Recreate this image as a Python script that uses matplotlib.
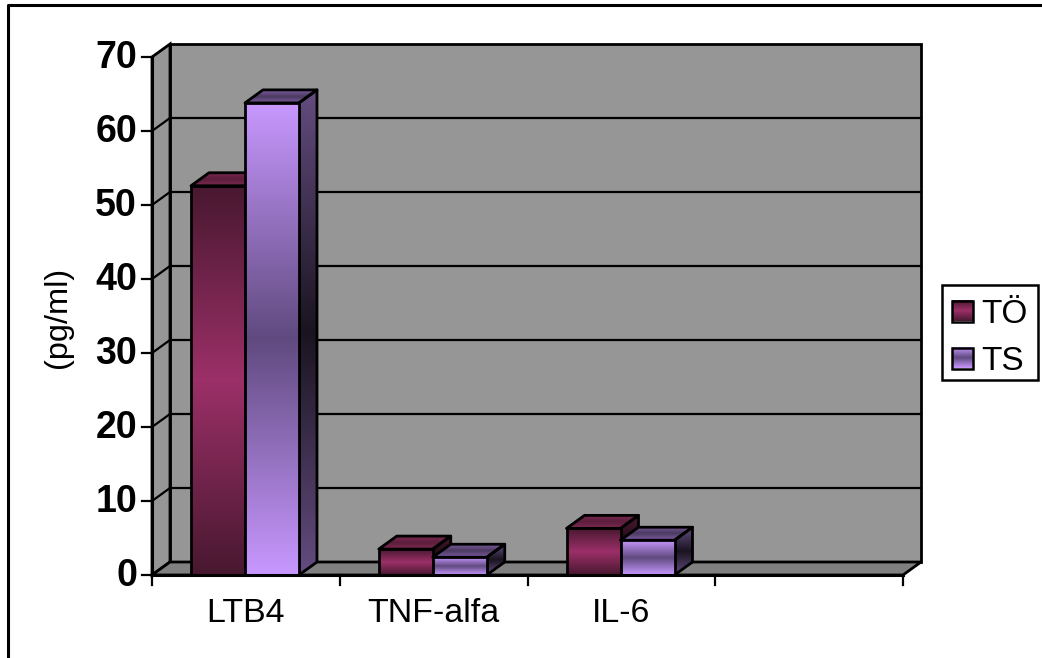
#!/usr/bin/env python3
# -*- coding: utf-8 -*-
import numpy as np
import matplotlib
matplotlib.use('Agg')
import matplotlib.pyplot as plt
from matplotlib.colors import LinearSegmentedColormap
from matplotlib.patches import Polygon, Rectangle

plt.rcParams['font.family'] = ['Liberation Sans', 'DejaVu Sans']

categories = ['LTB4', 'TNF-alfa', 'IL-6', '']
series_names = ['TÖ', 'TS']
to_values = [52.6, 3.5, 6.3]
ts_values = [63.8, 2.4, 4.7]
y_ticks = [0, 10, 20, 30, 40, 50, 60, 70]

W, H = 1042, 658
# pixel layout of the 3d box
left_px, right_px, base_px, top_px = 152, 903, 575, 57
dx_px, dy_px = 18, 13

fig = plt.figure(figsize=(W/100, H/100), dpi=100, facecolor='white')
ax = fig.add_axes([left_px/W, 1-base_px/H, (right_px+dx_px-left_px)/W, (base_px-top_px+dy_px+0)/H])
ax.axis('off')

cat_w = (right_px-left_px)/len(categories)
y_unit = (base_px-top_px)/70
dx = dx_px/cat_w       # depth in category units
dy = dy_px/y_unit      # depth in value units
ax.set_xlim(0, len(categories)+dx)
ax.set_ylim(0, 70+dy)

LW = 2.0
k = 'black'
wall_c = '#969696'
floor_c = '#808080'
nc = len(categories)

# walls and floor
ax.add_patch(Polygon([(dx, dy), (nc+dx, dy), (nc+dx, 70+dy), (dx, 70+dy)], fc=wall_c, ec=k, lw=LW, zorder=1, clip_on=False))
ax.add_patch(Polygon([(0, 0), (dx, dy), (dx, 70+dy), (0, 70)], fc=wall_c, ec=k, lw=LW, zorder=1, clip_on=False))
ax.add_patch(Polygon([(0, 0), (nc, 0), (nc+dx, dy), (dx, dy)], fc=floor_c, ec=k, lw=LW, zorder=1, clip_on=False))

# grid lines
for t in y_ticks[1:-1]:
    ax.plot([0, dx, nc+dx], [t, t+dy, t+dy], color=k, lw=1.6, zorder=2, clip_on=False)
ax.plot([0, 0], [0, 70], color=k, lw=2.2, zorder=6, clip_on=False)
ax.plot([0, nc], [0, 0], color=k, lw=2.2, zorder=6, clip_on=False)

# ticks
tick_x = 10/cat_w*1.0
for t in y_ticks:
    ax.plot([-tick_x, 0], [t, t], color=k, lw=1.6, clip_on=False, zorder=6)
    ax.text(-15/cat_w, t-1.5/y_unit, str(t), ha='right', va='center', fontsize=27, fontweight='bold', clip_on=False)
for i in range(nc+1):
    ax.plot([i, i], [0, -10/y_unit], color=k, lw=1.6, clip_on=False, zorder=6)
for i, c in enumerate(categories):
    ax.text(i+0.5, -38/y_unit, c, ha='center', va='center', fontsize=24.5)

ax.text(-94/cat_w, 34.8, '(pg/ml)', rotation=90, ha='center', va='center', fontsize=23.4, clip_on=False)

front_to = LinearSegmentedColormap.from_list('fto', ['#481830', '#9c3068', '#481830'])
front_ts = LinearSegmentedColormap.from_list('fts', ['#c898ff', '#604a7f', '#c898ff'])
side_to = LinearSegmentedColormap.from_list('sto', ['#4a1830', '#1e0a14', '#4a1830'])
side_ts = LinearSegmentedColormap.from_list('sts', ['#644c80', '#1a1420', '#644c80'])
top_to = LinearSegmentedColormap.from_list('tto', ['#7c2850', '#5c1e3c', '#7c2850'])
top_ts = LinearSegmentedColormap.from_list('tts', ['#7c5ca0', '#4a3a60', '#7c5ca0'])
grad = np.linspace(0, 1, 256).reshape(-1, 1)


def face(pts, cmap, z):
    xs = [p[0] for p in pts]
    ys = [p[1] for p in pts]
    poly = Polygon(pts, fc='none', ec=k, lw=LW, zorder=z+0.1, joinstyle='round', clip_on=False)
    ax.add_patch(poly)
    im = ax.imshow(grad, cmap=cmap, aspect='auto', extent=(min(xs), max(xs), min(ys), max(ys)), zorder=z, origin='lower')
    im.set_clip_path(Polygon(pts, transform=ax.transData))


def bar3d(x0, w, v, fc, sc, tc, z):
    face([(x0+w, 0), (x0+w+dx, dy), (x0+w+dx, v+dy), (x0+w, v)], sc, z)
    face([(x0, v), (x0+w, v), (x0+w+dx, v+dy), (x0+dx, v+dy)], tc, z)
    face([(x0, 0), (x0+w, 0), (x0+w, v), (x0, v)], fc, z+0.2)


off = 39/cat_w
bw = 54/cat_w
for i in range(len(to_values)):
    bar3d(i+off, bw, to_values[i], front_to, side_to, top_to, 3)
    bar3d(i+off+bw, bw, ts_values[i], front_ts, side_ts, top_ts, 4)

ax.set_xlim(0, nc+dx)
ax.set_ylim(0, 70+dy)

# legend and outer frame in figure pixels
ov = fig.add_axes([0, 0, 1, 1], facecolor='none')
ov.set_xlim(0, W)
ov.set_ylim(H, 0)
ov.axis('off')
ov.add_patch(Rectangle((942, 285), 96, 95, fc='white', ec=k, lw=1.8))
for name, cm, yy in zip(series_names, [front_to, front_ts], [311, 358]):
    ov.imshow(grad, cmap=cm, aspect='auto', extent=(952, 973, yy+10.5, yy-10.5), zorder=3)
    ov.add_patch(Rectangle((952, yy-10.5), 21, 21, fc='none', ec=k, lw=1.8, zorder=4))
    ov.text(981, yy+12, name, ha='left', va='baseline', fontsize=24)
ov.set_xlim(0, W)
ov.set_ylim(H, 0)
ov.plot([8, 8, W], [H, 5, 5], color=k, lw=2.2, clip_on=False)

plt.savefig('out.png', dpi=100)
